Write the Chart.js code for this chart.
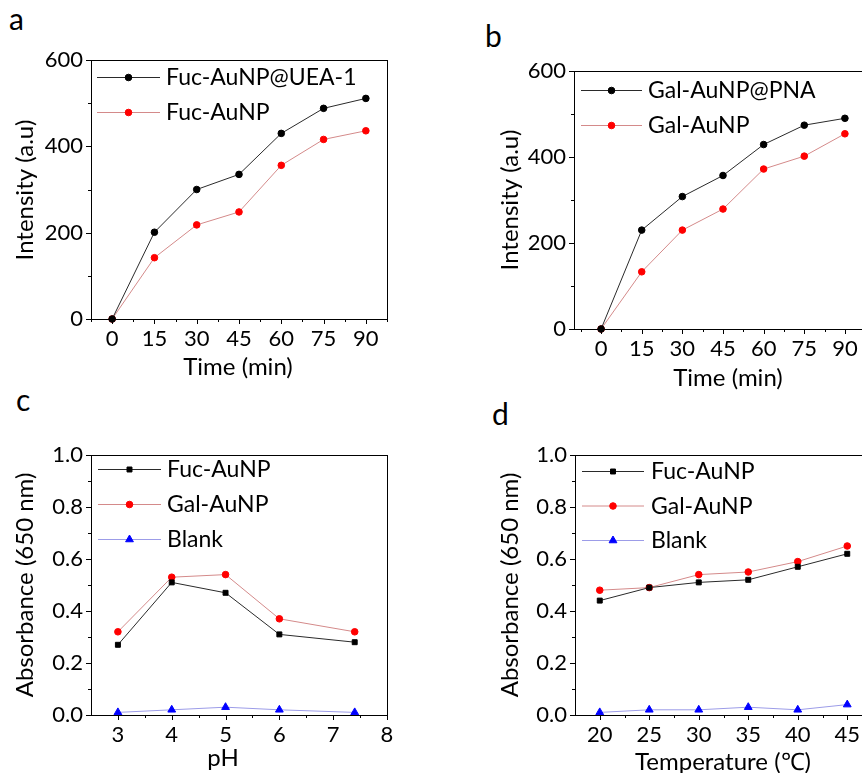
<!DOCTYPE html>
<html>
<head>
<meta charset="utf-8">
<script src="https://cdn.jsdelivr.net/npm/chart.js@4.4.1/dist/chart.umd.min.js"></script>
<style>
  body { margin: 0; width: 862px; height: 773px; overflow: hidden; background: #fff; position: relative; font-family: Lato, sans-serif; }
  canvas { position: absolute; }
  .tag { position: absolute; font: 30px Lato, sans-serif; color: #000; line-height: 30px; }
</style>
</head>
<body>
<div class="tag" style="left:9px;top:3px">a</div>
<div class="tag" style="left:485px;top:20px">b</div>
<div class="tag" style="left:16px;top:384px">c</div>
<div class="tag" style="left:492px;top:398px">d</div>

<canvas id="ca" width="430" height="380" style="left:0;top:0"></canvas>
<canvas id="cb" width="450" height="390" style="left:430px;top:0"></canvas>
<canvas id="cc" width="430" height="383" style="left:0;top:390px"></canvas>
<canvas id="cd" width="450" height="383" style="left:430px;top:390px"></canvas>

<script>
// time course (a, b)
const timeMin = [0, 15, 30, 45, 60, 75, 90];
const fucUea = [0, 201, 300, 335, 430, 488, 511];
const fucNp = [0, 142, 218, 248, 356, 416, 436];
const galPna = [0, 230, 308, 357, 429, 474, 490];
const galNp = [0, 133, 230, 279, 372, 402, 454];
const timeTicks = [0, 15, 30, 45, 60, 75, 90];
const intensityTicks = [0, 200, 400, 600];

// pH (c)
const phVals = [3, 4, 5, 6, 7.4];
const phFuc = [0.27, 0.51, 0.47, 0.31, 0.28];
const phGal = [0.32, 0.53, 0.54, 0.37, 0.32];
const phBlank = [0.01, 0.02, 0.03, 0.02, 0.01];
const phTicks = [3, 4, 5, 6, 7, 8];

// temperature (d)
const tempVals = [20, 25, 30, 35, 40, 45];
const tFuc = [0.44, 0.49, 0.51, 0.52, 0.57, 0.62];
const tGal = [0.48, 0.49, 0.54, 0.55, 0.59, 0.65];
const tBlank = [0.01, 0.02, 0.02, 0.03, 0.02, 0.04];
const tempTicks = [20, 25, 30, 35, 40, 45];
const absTicks = [0, 0.2, 0.4, 0.6, 0.8, 1.0];

const FONT = 'Lato, sans-serif';

function pts(xs, ys) {
    return xs.map((x, i) => ({ x: x, y: ys[i] }));
}

function series(label, xs, ys, kind, style) {
    const looks = {
        black: { line: '#2a2a2a', fill: '#000000' },
        red: { line: '#d48a8a', fill: '#ff0000' },
        blue: { line: '#9c9ce8', fill: '#0000ff' }
    };
    return {
        label: label,
        data: pts(xs, ys),
        borderColor: looks[kind].line,
        borderWidth: 1,
        backgroundColor: looks[kind].fill,
        pointBackgroundColor: looks[kind].fill,
        pointBorderColor: looks[kind].fill,
        pointBorderWidth: 1,
        pointStyle: style,
        pointRadius: style === 'triangle' ? 4.5 : (style === 'rect' ? 3.5 : 3.3),
        tension: 0,
        clip: false
    };
}

// frame, ticks, axis titles and legend
const decor = {
    id: 'decor',
    afterDraw(chart) {
        const o = chart.options.plugins.decor;
        const ctx = chart.ctx;
        const a = chart.chartArea;
        const xs = chart.scales.x, ys = chart.scales.y;
        ctx.save();
        ctx.strokeStyle = '#000';
        ctx.lineWidth = 1;
        ctx.strokeRect(Math.round(a.left) + 0.5, Math.round(a.top) + 0.5,
            Math.round(a.right - a.left), Math.round(a.bottom - a.top));

        ctx.beginPath();
        o.xTicks.forEach(v => {
            const px = Math.round(xs.getPixelForValue(v)) + 0.5;
            ctx.moveTo(px, a.bottom); ctx.lineTo(px, a.bottom + 5);
        });
        o.xMinor.forEach(v => {
            const px = Math.round(xs.getPixelForValue(v)) + 0.5;
            ctx.moveTo(px, a.bottom); ctx.lineTo(px, a.bottom + 3);
        });
        o.yTicks.forEach(v => {
            const py = Math.round(ys.getPixelForValue(v)) + 0.5;
            ctx.moveTo(a.left, py); ctx.lineTo(a.left - 5, py);
        });
        o.yMinor.forEach(v => {
            const py = Math.round(ys.getPixelForValue(v)) + 0.5;
            ctx.moveTo(a.left, py); ctx.lineTo(a.left - 3, py);
        });
        ctx.stroke();

        ctx.fillStyle = '#000';
        ctx.font = '24px ' + FONT;
        ctx.textAlign = 'center';
        ctx.textBaseline = 'middle';
        ctx.fillText(o.xTitle[0], o.xTitle[1], o.xTitle[2]);
        ctx.save();
        ctx.translate(o.yTitle[1], o.yTitle[2]);
        ctx.rotate(-Math.PI / 2);
        ctx.fillText(o.yTitle[0], 0, 0);
        ctx.restore();

        // legend: line with marker in the middle, then the label
        const lg = o.legend;
        chart.data.datasets.forEach((ds, i) => {
            const y = lg.y + i * lg.gap;
            ctx.strokeStyle = ds.borderColor;
            ctx.lineWidth = 1;
            ctx.beginPath();
            ctx.moveTo(lg.x0, y + 0.5); ctx.lineTo(lg.x1, y + 0.5);
            ctx.stroke();
            ctx.fillStyle = ds.pointBackgroundColor;
            ctx.strokeStyle = ds.pointBorderColor;
            Chart.helpers.drawPoint(ctx, { pointStyle: ds.pointStyle, radius: ds.pointRadius, borderWidth: 1 },
                (lg.x0 + lg.x1) / 2, y + 0.5);
            ctx.fillStyle = '#000';
            ctx.font = '23px ' + FONT;
            ctx.textAlign = 'left';
            ctx.fillText(ds.label, lg.tx, y + 1);
        });
        ctx.restore();
    }
};

function range(from, to, step) {
    const out = [];
    for (let v = from; v <= to + 1e-9; v += step) out.push(+v.toFixed(4));
    return out;
}

// p: canvas offset and plot box in page pixels
function panel(id, p, datasets, ax) {
    const cv = document.getElementById(id);
    const left = p.area[0] - p.cx, right = p.area[1] - p.cx;
    const top = p.area[2] - p.cy, bottom = p.area[3] - p.cy;
    const rel = (t) => [t[0], t[1] - p.cx, t[2] - p.cy];
    new Chart(cv.getContext('2d'), {
        type: 'line',
        data: { datasets: datasets },
        options: {
            responsive: false,
            animation: false,
            layout: { padding: { left: 0, top: top, right: cv.width - right, bottom: 0 } },
            plugins: {
                legend: { display: false },
                tooltip: { enabled: false },
                decor: {
                    xTicks: ax.xTicks, xMinor: ax.xMinor, yTicks: ax.yTicks, yMinor: ax.yMinor,
                    xTitle: rel(ax.xTitle), yTitle: rel(ax.yTitle),
                    legend: {
                        x0: ax.legend.x0 - p.cx, x1: ax.legend.x1 - p.cx, tx: ax.legend.tx - p.cx,
                        y: ax.legend.y - p.cy, gap: ax.legend.gap
                    }
                }
            },
            scales: {
                x: {
                    type: 'linear', min: ax.xMin, max: ax.xMax,
                    grid: { display: false, drawTicks: false }, border: { display: false },
                    afterFit(s) { s.height = cv.height - bottom; },
                    afterBuildTicks(s) { s.ticks = ax.xTicks.map(v => ({ value: v })); },
                    ticks: { color: '#000', font: { family: FONT, size: 22 }, padding: 7, maxRotation: 0,
                        callback: ax.xFmt }
                },
                y: {
                    type: 'linear', min: ax.yMin, max: ax.yMax,
                    grid: { display: false, drawTicks: false }, border: { display: false },
                    afterFit(s) { s.width = left; },
                    afterBuildTicks(s) { s.ticks = ax.yTicks.map(v => ({ value: v })); },
                    ticks: { color: '#000', font: { family: FONT, size: 22 }, padding: 8,
                        callback: ax.yFmt }
                }
            }
        },
        plugins: [decor]
    });
}

const intFmt = v => String(v);
const oneDec = v => v.toFixed(1);

panel('ca', { cx: 0, cy: 0, area: [91, 387, 60, 319] }, [
    series('Fuc-AuNP@UEA-1', timeMin, fucUea, 'black', 'circle'),
    series('Fuc-AuNP', timeMin, fucNp, 'red', 'circle')
], {
    xMin: -7.5, xMax: 97.5, yMin: 0, yMax: 600,
    xTicks: timeTicks, xMinor: range(-7.5, 97.5, 15), yTicks: intensityTicks, yMinor: range(100, 500, 200),
    xFmt: intFmt, yFmt: intFmt,
    xTitle: ['Time (min)', 238, 367], yTitle: ['Intensity (a.u)', 25, 190],
    legend: { x0: 97, x1: 160, tx: 166, y: 77, gap: 35 }
});

panel('cb', { cx: 430, cy: 0, area: [574, 872, 71, 329] }, [
    series('Gal-AuNP@PNA', timeMin, galPna, 'black', 'circle'),
    series('Gal-AuNP', timeMin, galNp, 'red', 'circle')
], {
    xMin: -10, xMax: 100, yMin: 0, yMax: 600,
    xTicks: timeTicks, xMinor: range(-7.5, 97.5, 15), yTicks: intensityTicks, yMinor: range(100, 500, 200),
    xFmt: intFmt, yFmt: intFmt,
    xTitle: ['Time (min)', 728, 378], yTitle: ['Intensity (a.u)', 510, 200],
    legend: { x0: 581, x1: 642, tx: 648, y: 90, gap: 35 }
});

panel('cc', { cx: 0, cy: 390, area: [91, 387, 455, 715] }, [
    series('Fuc-AuNP', phVals, phFuc, 'black', 'rect'),
    series('Gal-AuNP', phVals, phGal, 'red', 'circle'),
    series('Blank', phVals, phBlank, 'blue', 'triangle')
], {
    xMin: 2.5, xMax: 8, yMin: 0, yMax: 1,
    xTicks: phTicks, xMinor: range(3.5, 7.5, 1), yTicks: absTicks, yMinor: range(0.1, 0.9, 0.2),
    xFmt: intFmt, yFmt: oneDec,
    xTitle: ['pH', 223, 758], yTitle: ['Absorbance (650 nm)', 25, 585],
    legend: { x0: 98, x1: 161, tx: 167, y: 469, gap: 35 }
});

panel('cd', { cx: 430, cy: 390, area: [575, 872, 455, 715] }, [
    series('Fuc-AuNP', tempVals, tFuc, 'black', 'rect'),
    series('Gal-AuNP', tempVals, tGal, 'red', 'circle'),
    series('Blank', tempVals, tBlank, 'blue', 'triangle')
], {
    xMin: 17.5, xMax: 47.5, yMin: 0, yMax: 1,
    xTicks: tempTicks, xMinor: range(22.5, 47.5, 5), yTicks: absTicks, yMinor: range(0.1, 0.9, 0.2),
    xFmt: intFmt, yFmt: oneDec,
    xTitle: ['Temperature (\u2103)', 723, 762], yTitle: ['Absorbance (650 nm)', 510, 585],
    legend: { x0: 582, x1: 644, tx: 651, y: 471, gap: 34.5 }
});
</script>
</body>
</html>
